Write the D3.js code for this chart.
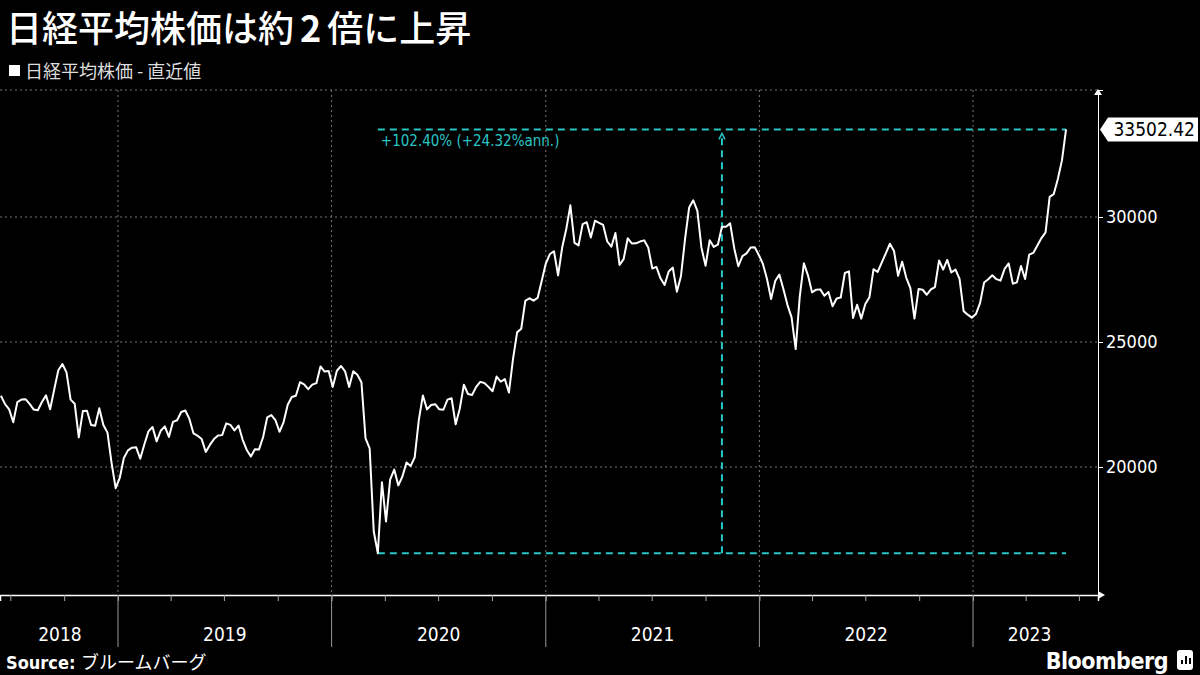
<!DOCTYPE html>
<html>
<head>
<meta charset="utf-8">
<script src="https://cdn.jsdelivr.net/npm/d3@7"></script>
<style>
  body { margin: 0; background: #000; }
  svg { display: block; }
  .tick-label { font-family: "DejaVu Sans Condensed", "DejaVu Sans", sans-serif; font-stretch: condensed; fill: #fff; }
</style>
</head>
<body>
<svg id="chart" width="1200" height="675"></svg>
<script>
// weekly closes, starting Friday 2018-06-15
const startWeek = '2018-06-15';
const values2018 = [22851, 22516, 22305, 21788, 22597, 22698, 22712, 22525, 22298, 22270, 22601, 22865, 22307, 23094, 23870, 24120, 23784, 22694, 22532, 21184, 22243, 22250, 21680, 21646, 22351, 21679, 21374, 20166, 19155];
const values2019 = [19561, 20359, 20666, 20773, 20788, 20333, 20900, 21425, 21602, 21025, 21450, 21627, 21205, 21807, 21870, 22200, 22258, 21923, 21344, 21250, 21117, 20601, 20884, 21116, 21258, 21275, 21746, 21685, 21466, 21658, 21087, 20684, 20418, 20710, 20704, 21199, 21988, 22079, 21878, 21410, 21798, 22492, 22799, 22850, 23391, 23303, 23112, 23293, 23354, 24023, 23816, 23837];
const values2020 = [23205, 23850, 24041, 23827, 23205, 23827, 23688, 23386, 21142, 20749, 17431, 16552, 19389, 17820, 19498, 19897, 19262, 19619, 20179, 20037, 20388, 21877, 22863, 22305, 22478, 22512, 22306, 22290, 22696, 22751, 21710, 22329, 23289, 22920, 22882, 23205, 23406, 23360, 23204, 23029, 23619, 23410, 23516, 22977, 24325, 25385, 25527, 26644, 26751, 26652, 26763, 27444];
const values2021 = [28139, 28519, 28631, 27663, 28779, 29520, 30467, 28966, 28864, 29717, 29792, 29176, 29854, 29768, 29683, 29020, 28812, 29357, 28084, 28317, 29149, 28941, 28948, 29018, 29066, 28783, 27940, 28003, 27548, 27283, 27820, 27977, 27013, 27641, 29128, 30381, 30670, 30249, 28771, 28048, 29068, 28804, 28893, 29612, 29610, 29745, 28752, 28030, 28437, 28546, 28782, 28792];
const values2022 = [28479, 28124, 27522, 26717, 27440, 27696, 27122, 26476, 25985, 24717, 26827, 28149, 27666, 26985, 27093, 27105, 26848, 27003, 26427, 26739, 26781, 27761, 27824, 25963, 26491, 25935, 26517, 26788, 27914, 27801, 28175, 28546, 28930, 28641, 27650, 28214, 27567, 27153, 25937, 27116, 27090, 26890, 27105, 27199, 28263, 27899, 28283, 27777, 27901, 27527, 26235, 26094];
const values2023 = [25973, 26119, 26553, 27382, 27509, 27670, 27513, 27453, 27927, 28143, 27333, 27385, 28041, 27518, 28493, 28564, 28856, 29157, 29388, 30808, 30916, 31524, 32265, 33502.42];
const yTicks = [20000, 25000, 30000];
const years = [2018, 2019, 2020, 2021, 2022, 2023];
const lowValue = 16552, lastValue = 33502.42;
const changeLabel = '+102.40% (+24.32%ann.)';

const svg = d3.select('#chart');
const plot = { left: 0, right: 1098, top: 90, bottom: 595 };
const cyan = '#29c6c6';

const values = [].concat(values2018, values2019, values2020, values2021, values2022, values2023);
const t0 = d3.timeParse('%Y-%m-%d')(startWeek);
const data = values.map((v, i) => ({ date: d3.timeWeek.offset(t0, i), value: v }));
const lastDate = data[data.length - 1].date;
const lowPoint = data.find(d => d.value === lowValue);

const x = d3.scaleTime()
  .domain([new Date(2019, 0, 1), new Date(2023, 0, 1)])
  .range([118, 973]);
const xMin = x.invert(plot.left), xMax = x.invert(plot.right);
const y = d3.scaleLinear().domain([14880, 35080]).range([plot.bottom, plot.top]);

// grid
const grid = svg.append('g').attr('stroke', '#777').attr('stroke-dasharray', '2,3').attr('stroke-width', 1);
yTicks.concat([35080]).forEach(v => {
  grid.append('line').attr('x1', plot.left).attr('x2', plot.right).attr('y1', y(v)).attr('y2', y(v));
});
years.slice(1).forEach(yr => {
  const xx = x(new Date(yr, 0, 1));
  grid.append('line').attr('x1', xx).attr('x2', xx).attr('y1', plot.top).attr('y2', plot.bottom);
});

// right axis
const yAxis = svg.append('g').attr('transform', `translate(${plot.right},0)`)
  .call(d3.axisRight(y).tickValues(yTicks).tickSize(5).tickFormat(d3.format('d')));
yAxis.select('.domain').attr('stroke', '#fff');
yAxis.selectAll('.tick line').attr('stroke', '#fff');
yAxis.selectAll('text').attr('class', 'tick-label').attr('font-size', 18).attr('x', 8);
svg.append('path').attr('d', `M${plot.right - 4},${plot.top + 5}L${plot.right},${plot.top - 1}L${plot.right + 4},${plot.top + 5}Z`).attr('fill', '#fff');

// bottom axis
const xb = x.copy().domain([xMin, xMax]).range([plot.left, plot.right]);
const xAxis = svg.append('g').attr('transform', `translate(0,${plot.bottom})`)
  .call(d3.axisBottom(xb).ticks(d3.timeMonth.every(3)).tickSize(6).tickFormat(''));
xAxis.select('.domain').attr('stroke', '#fff').attr('stroke-width', 1.5);
xAxis.selectAll('.tick line').attr('stroke', '#aaa');
svg.append('path').attr('d', `M${plot.right},${plot.bottom - 4}L${plot.right + 7},${plot.bottom}L${plot.right},${plot.bottom + 4}Z`).attr('fill', '#fff');
years.slice(1).forEach(yr => {
  const xx = x(new Date(yr, 0, 1));
  svg.append('line').attr('x1', xx).attr('x2', xx).attr('y1', plot.bottom).attr('y2', 647).attr('stroke', '#999');
});
years.forEach(yr => {
  const a = Math.max(x(new Date(yr, 0, 1)), plot.left);
  const b = Math.min(x(new Date(yr + 1, 0, 1)), x(lastDate) + 20);
  svg.append('text').attr('class', 'tick-label').attr('x', yr === 2018 ? 60 : (a + b) / 2).attr('y', 641)
    .attr('text-anchor', 'middle').attr('font-size', 19).text(yr);
});

// annotation
const ann = svg.append('g').attr('stroke', cyan).attr('stroke-width', 2).attr('stroke-dasharray', '7,5').attr('fill', 'none');
const xLow = x(lowPoint.date), xEnd = x(lastDate);
const xMid = (xLow + xEnd) / 2;
ann.append('line').attr('x1', xLow).attr('x2', xEnd).attr('y1', y(lowValue)).attr('y2', y(lowValue));
ann.append('line').attr('x1', xLow).attr('x2', xEnd).attr('y1', y(lastValue)).attr('y2', y(lastValue));
ann.append('line').attr('x1', xMid).attr('x2', xMid).attr('y1', y(lowValue)).attr('y2', y(lastValue) + 6);
svg.append('path').attr('d', `M${xMid - 3},${y(lastValue) + 10}L${xMid},${y(lastValue) + 4}L${xMid + 3},${y(lastValue) + 10}`)
  .attr('stroke', cyan).attr('stroke-width', 1.5).attr('fill', 'none');
svg.append('text').attr('class', 'tick-label').attr('x', xLow + 3).attr('y', y(lastValue) + 17).style('fill', cyan)
  .attr('font-size', 15).text(changeLabel);

// line
const line = d3.line().x(d => x(d.date)).y(d => y(d.value));
svg.append('path').datum(data).attr('d', line).attr('fill', 'none').attr('stroke', '#fff').attr('stroke-width', 2).attr('stroke-linejoin', 'round');

// last value tag
const ty = y(lastValue);
svg.append('path').attr('d', `M${plot.right + 2},${ty}L${plot.right + 10},${ty - 12}H1198V${ty + 12}H${plot.right + 10}Z`).attr('fill', '#fff');
svg.append('text').attr('class', 'tick-label').attr('x', 1195).attr('y', ty + 7).attr('text-anchor', 'end')
  .attr('font-size', 19).style('fill', '#000').text(d3.format('.2f')(lastValue));

// titles
const jp = '"Noto Sans CJK JP", sans-serif';
const title = svg.append('text').attr('x', 6).attr('y', 42).attr('fill', '#fff').attr('font-family', jp)
  .attr('font-size', 36).attr('font-weight', 500);
title.append('tspan').text('日経平均株価は約');
title.append('tspan').attr('font-weight', 'bold').attr('dx', 6).text('2');
title.append('tspan').attr('dx', 6).text('倍に上昇');
svg.append('rect').attr('x', 9).attr('y', 65).attr('width', 11).attr('height', 11).attr('fill', '#fff');
svg.append('text').attr('x', 25).attr('y', 78).attr('fill', '#ddd').attr('font-family', jp)
  .attr('font-size', 18).text('日経平均株価 - 直近値');

// footer
const src = svg.append('text').attr('x', 6).attr('y', 669).attr('fill', '#fff').attr('font-size', 18);
src.append('tspan').attr('font-family', '"DejaVu Sans Condensed", sans-serif').attr('font-weight', 'bold').text('Source: ');
src.append('tspan').attr('font-family', jp).attr('font-size', 18).text('ブルームバーグ');
svg.append('text').attr('x', 1168).attr('y', 669).attr('text-anchor', 'end').attr('fill', '#fff')
  .attr('font-family', '"DejaVu Sans Condensed", sans-serif').attr('font-weight', 'bold').attr('font-size', 23)
  .attr('letter-spacing', -0.5).text('Bloomberg');
svg.append('rect').attr('x', 1177).attr('y', 650).attr('width', 16).attr('height', 20).attr('rx', 3).attr('fill', '#fff');
[[1181, 4], [1185, 8], [1189, 6]].forEach(([bx, h]) => {
  svg.append('rect').attr('x', bx).attr('y', 664 - h).attr('width', 2).attr('height', h).attr('fill', '#000');
});
</script>
</body>
</html>
